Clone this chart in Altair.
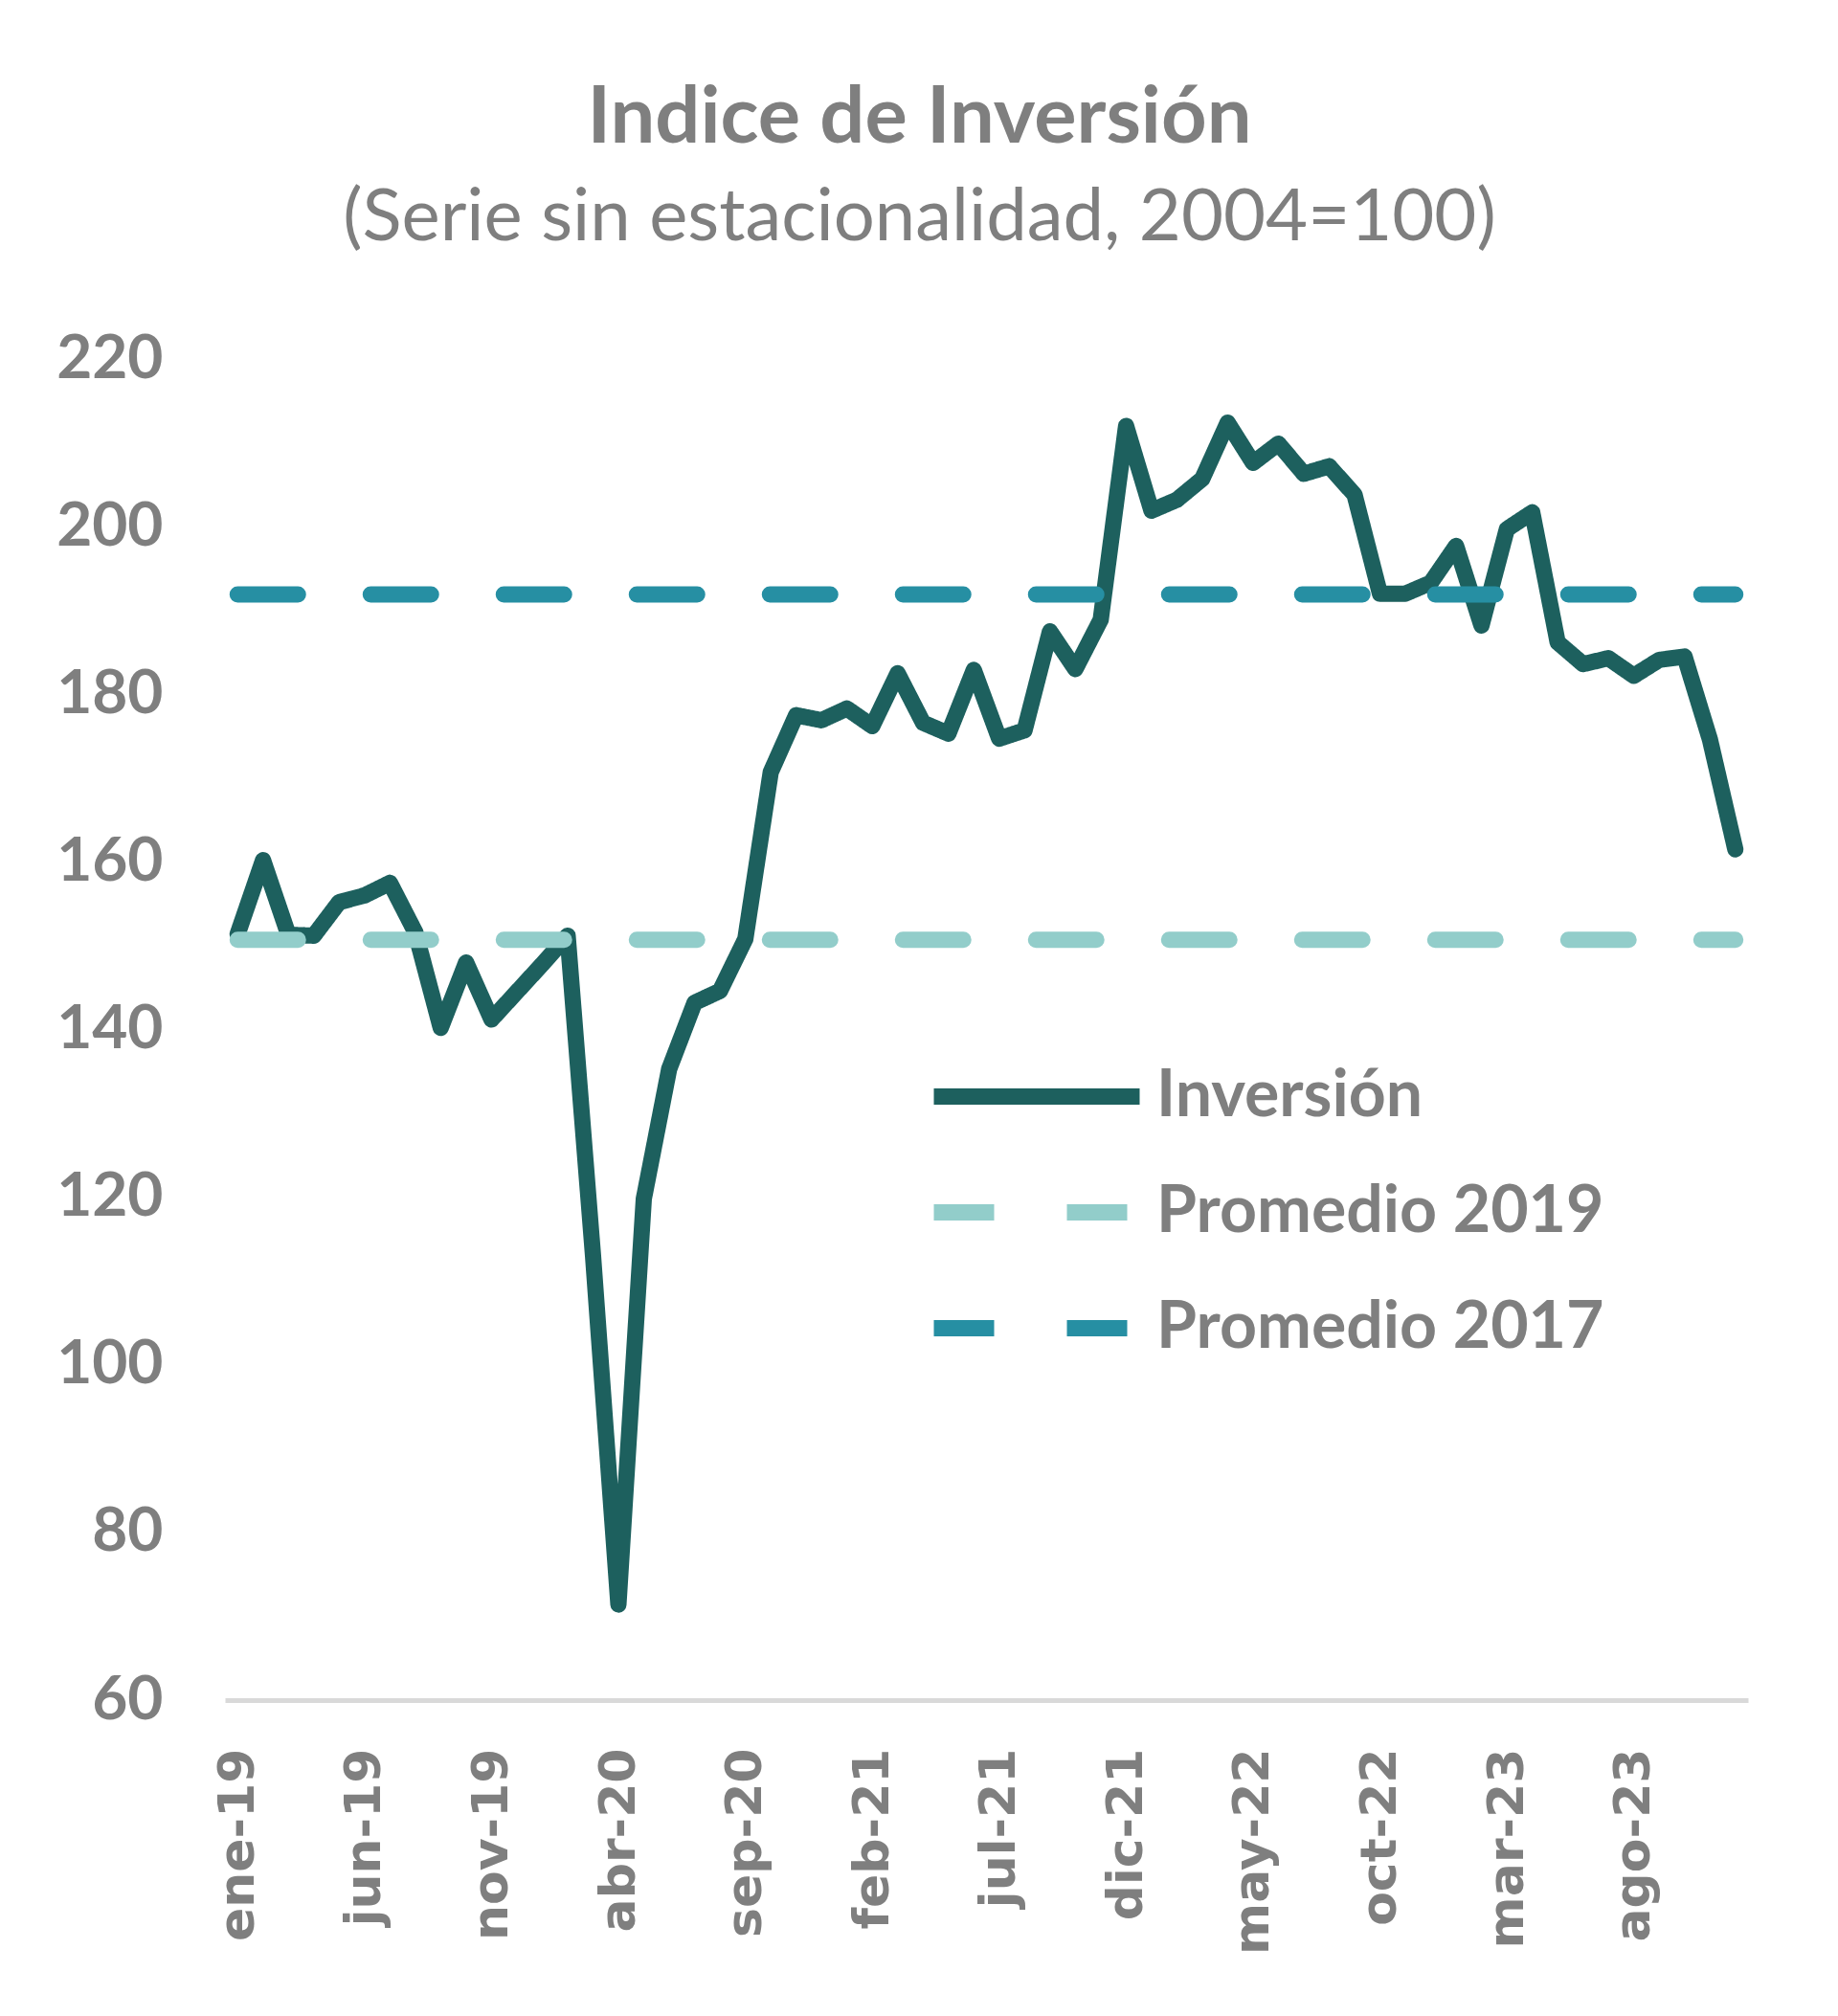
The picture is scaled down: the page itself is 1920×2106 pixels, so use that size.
import altair as alt
import pandas as pd

meses = ["ene", "feb", "mar", "abr", "may", "jun", "jul", "ago", "sep", "oct", "nov", "dic"]
anios = ["19", "20", "21", "22", "23"]
categorias = [f"{m}-{a}" for a in anios for m in meses]

inversion = [
    151.4, 160.2, 151.3, 151.2, 155.2, 156.0, 157.5, 151.6, 140.2, 148.0, 141.2, 144.5,
    147.8, 151.2, 113.0, 71.4, 119.8, 135.3, 143.2, 144.6, 150.8, 170.7, 177.5, 176.9,
    178.3, 176.2, 182.5, 176.6, 175.3, 182.9, 174.7, 175.7, 187.5, 183.0, 188.9, 212.0,
    201.9, 203.2, 205.7, 212.4, 207.6, 209.9, 206.3, 207.2, 203.8, 192.0, 192.0, 193.3,
    197.7, 188.2, 199.7, 201.7, 186.2, 183.6, 184.3, 182.2, 184.1, 184.5, 174.6, 161.5,
]
promedio_2019 = 150.7
promedio_2017 = 191.9

series = ["Inversión", "Promedio 2019", "Promedio 2017"]
colores = ["#1d605e", "#92cdca", "#268fa3"]
trazos = [[1, 0], [63, 76], [63, 76]]
ticks_x = categorias[::5]
ticks_y = [60, 80, 100, 120, 140, 160, 180, 200, 220]

filas = []
for c, v in zip(categorias, inversion):
    filas.append({"mes": c, "valor": v, "serie": "Inversión"})
prom = []
for c in categorias:
    prom.append({"mes": c, "valor": promedio_2019, "serie": "Promedio 2019"})
for c in categorias:
    prom.append({"mes": c, "valor": promedio_2017, "serie": "Promedio 2017"})
df_inv = pd.DataFrame(filas)
df_prom = pd.DataFrame(prom)

gris = "#7f7f7f"

x_enc = alt.X(
    "mes:O",
    sort=categorias,
    scale=alt.Scale(type="point", padding=0.5),
    axis=alt.Axis(
        values=ticks_x, labelAngle=270, title=None, ticks=False, grid=False,
        domainColor="#d9d9d9", domainWidth=5, labelPadding=50,
        labelFont="DejaVu Sans", labelFontSize=52, labelFontWeight="bold",
        labelColor=gris, labelLimit=600,
    ),
)
y_enc = alt.Y(
    "valor:Q",
    scale=alt.Scale(domain=[60, 220], nice=False, zero=False),
    axis=alt.Axis(
        values=ticks_y, title=None, ticks=False, grid=False, domain=False,
        labelPadding=65, labelFont="Lato", labelFontSize=64,
        labelFontWeight="bold", labelColor=gris,
    ),
)

def leyenda():
    return alt.Legend(
        title=None, orient="none", legendX=732, legendY=710,
        symbolType="stroke", symbolSize=46225, symbolStrokeWidth=17,
        labelFont="Lato", labelFontSize=68, labelFontWeight="bold",
        labelColor=gris, labelOffset=9, rowPadding=0, clipHeight=121,
        padding=0, labelLimit=1000,
    )

color_enc = alt.Color("serie:N", scale=alt.Scale(domain=series, range=colores), legend=leyenda())
dash_enc = alt.StrokeDash("serie:N", scale=alt.Scale(domain=series, range=trazos), legend=leyenda())

linea = alt.Chart(df_inv).mark_line(
    strokeWidth=17, strokeCap="round", strokeJoin="round"
).encode(x=x_enc, y=y_enc, color=color_enc, strokeDash=dash_enc)

promedios = alt.Chart(df_prom).mark_line(
    strokeWidth=17, strokeCap="round"
).encode(x=x_enc, y=y_enc, color=color_enc, strokeDash=dash_enc, detail="serie:N")

chart = alt.layer(linea, promedios).properties(
    width=1591,
    height=1401,
    autosize=alt.AutoSizeParams(type="none"),
    padding={"left": 227, "top": 367, "right": 86, "bottom": 320},
    title=alt.Title(
        text="Indice de Inversión",
        subtitle="(Serie sin estacionalidad, 2004=100)",
        font="Lato", fontSize=83, fontWeight="bold", color=gris,
        subtitleFont="Lato", subtitleFontSize=76, subtitleFontWeight="normal",
        subtitleColor=gris, subtitlePadding=25,
        anchor="middle", dx=-70, offset=77,
    ),
).configure(background="white").configure_view(strokeWidth=0)

chart.save("out.html", embed_options={"renderer": "svg", "actions": False})
